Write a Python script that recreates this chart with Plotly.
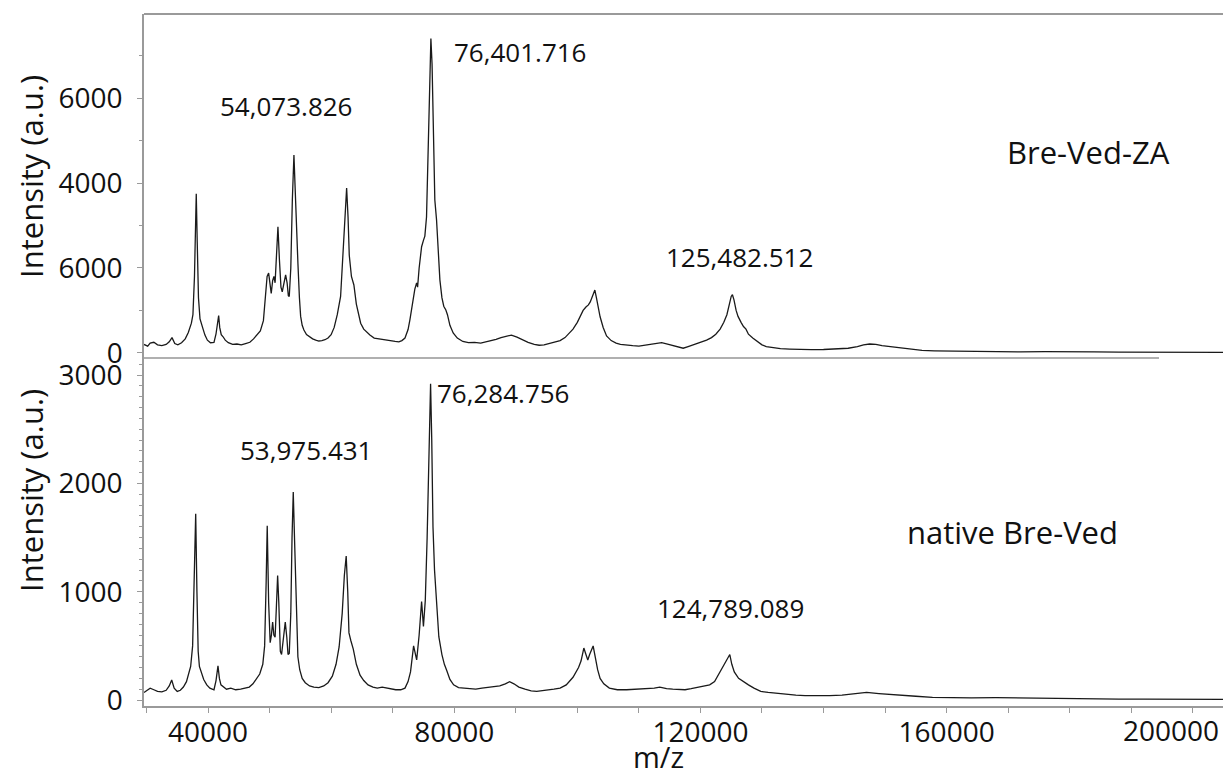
import plotly.graph_objects as go

# ---------------- data ----------------
# Bre-Ved-ZA spectrum (top panel): m/z and intensity (a.u.)
za_mz = [29600, 30200, 30600, 31200, 31800, 32500, 33200, 33700, 34150, 34600, 35100, 35700, 36300, 36800,
         37300, 37550, 37800, 37950, 38090, 38250, 38450, 38700, 39000, 39200, 39500, 39900, 40400, 40970,
         41300, 41550, 41730, 41900, 42150, 42450, 42800, 43300, 44000, 44700, 45400, 46100, 46800, 47400,
         48000, 48500, 49000, 49300, 49600, 49850, 50050, 50270, 50500, 50710, 50900, 51150, 51360, 51600,
         51850, 52060, 52300, 52610, 52850, 53050, 53200, 53450, 53700, 53960, 54150, 54400, 54610, 54850,
         55050, 55300, 55580, 56000, 56500, 57000, 57500, 58000, 58500, 59000, 59500, 60000, 60500, 61000,
         61540, 61900, 62200, 62520, 62750, 62950, 63300, 63700, 64100, 64500, 64800, 65300, 65800, 66300,
         67000, 67700, 68400, 69100, 69800, 70400, 71000, 71500, 72000, 72500, 72800, 73200, 73600, 73890,
         74050, 74300, 74700, 75000, 75230, 75500, 75800, 76050, 76210, 76400, 76600, 76850, 77130, 77400,
         77670, 78000, 78300, 78640, 78900, 79300, 79830, 80500, 81400, 82300, 83300, 84300, 85200, 86000,
         86800, 87600, 88400, 89300, 90200, 91000, 92000, 93000, 93800, 94600, 95500, 96400, 97200, 98000,
         98800, 99300, 100000, 100500, 100940, 101400, 101800, 102100, 102500, 102850, 103100, 103400,
         103700, 104200, 104750, 105500, 106300, 107000, 108000, 109000, 110000, 111000, 112000, 113000,
         113700, 114500, 115500, 116300, 117200, 118000, 119000, 120000, 121000, 121800, 122500, 123200,
         123800, 124300, 124700, 125000, 125200, 125450, 125800, 126110, 126600, 127000, 127400, 127800,
         128500, 129300, 130000, 130700, 131800, 133000, 134500, 136000, 138000, 140000, 142000, 144000,
         145500, 146500, 147500, 148500, 149500, 150700, 152000, 154000, 156000, 158000, 160000, 164000,
         168000, 172000, 176000, 180000, 184000, 188000, 192000, 196000, 200000, 204000, 206200]
za_int = [200, 160, 230, 250, 190, 170, 200, 260, 360, 220, 190, 240, 330, 480,
          700, 900, 1800, 3000, 3750, 2600, 1300, 800, 620, 560, 420, 300, 240, 250,
          450, 700, 880, 600, 430, 380, 300, 240, 200, 210, 190, 220, 250, 330,
          420, 520, 760, 1300, 1800, 1880, 1650, 1400, 1700, 1800, 1650, 2400, 2970, 2200,
          1550, 1440, 1650, 1840, 1650, 1350, 1330, 2000, 3600, 4660, 3900, 2600, 2100, 1300,
          860, 650, 540, 430, 370, 330, 300, 280, 290, 310, 350, 430, 600, 900,
          1330, 2200, 3200, 3880, 3200, 2300, 1800, 1600, 1150, 850, 700, 560, 480, 420,
          350, 330, 320, 300, 280, 270, 260, 290, 350, 550, 780, 1200, 1500, 1650,
          1550, 2000, 2500, 2650, 2750, 3200, 5000, 6800, 7400, 6800, 5000, 3600, 3130, 2300,
          1720, 1300, 1100, 1010, 900, 650, 470, 350, 270, 240, 250, 230, 260, 280,
          320, 360, 390, 420, 370, 310, 250, 200, 180, 190, 230, 260, 290, 360,
          480, 560, 720, 880, 1000, 1080, 1130, 1200, 1350, 1480, 1300, 1050,
          850, 600, 400, 290, 230, 200, 180, 170, 160, 180, 200, 230,
          240, 210, 170, 130, 110, 150, 200, 250, 300, 360, 440, 560,
          720, 900, 1150, 1330, 1370, 1250, 1000, 860, 720, 620, 560, 440,
          350, 260, 190, 150, 120, 100, 90, 80, 75, 80, 90, 110,
          150, 190, 210, 200, 170, 150, 120, 90, 60, 50, 45, 40,
          30, 25, 30, 20, 25, 20, 15, 20, 15, 10, 12]

# native Bre-Ved spectrum (bottom panel)
nat_mz = [29600, 30200, 30600, 31200, 31800, 32500, 33200, 33700, 34100, 34500, 35000, 35500, 36000, 36500,
          36900, 37180, 37500, 37750, 38000, 38200, 38400, 38600, 38900, 39300, 39800, 40300, 40970, 41300,
          41620, 41850, 42100, 42500, 43000, 43700, 44500, 45300, 46000, 46700, 47300, 47900, 48400, 48900,
          49200, 49450, 49620, 49850, 50100, 50300, 50500, 50700, 50900, 51100, 51310, 51500, 51750, 51950,
          52200, 52550, 52800, 53000, 53200, 53450, 53650, 53850, 54050, 54300, 54600, 54900, 55300, 55800,
          56500, 57200, 58000, 58800, 59500, 60200, 60800, 61300, 61800, 62150, 62450, 62700, 62900, 63200,
          63600, 64100, 64700, 65300, 66000, 66800, 67500, 68300, 69000, 69800, 70500, 71300, 72000, 72500,
          72900, 73400, 73700, 73900, 74300, 74700, 75000, 75300, 75600, 75850, 76050, 76160, 76350, 76550,
          76800, 77100, 77500, 78000, 78400, 78800, 79300, 79900, 80700, 81600, 82500, 83500, 84500, 85500,
          86500, 87400, 88300, 89000, 89700, 90500, 91500, 92500, 93400, 94300, 95200, 96200, 97200, 98200,
          99300, 100200, 100600, 101060, 101400, 101700, 102000, 102570, 102900, 103300, 103700, 104300,
          105200, 106500, 108000, 109500, 111000, 112500, 113400, 114500, 115500, 116500, 117500, 118500,
          119500, 120500, 121500, 122300, 123100, 123700, 124300, 124770, 125100, 125500, 126200, 126900,
          127800, 128700, 129800, 131000, 132500, 134000, 135500, 137000, 139000, 141000, 143000, 145000,
          147000, 149000, 151000, 153000, 155000, 157700, 160000, 164000, 168000, 172000, 176000, 180000,
          184000, 188000, 192000, 196000, 200000, 204000, 206200]
nat_int = [70, 90, 110, 95, 80, 75, 90, 130, 185, 110, 80, 90, 120, 170,
           250, 310, 500, 1100, 1720, 1000, 450, 310, 250, 190, 140, 110, 95, 180,
           315, 200, 140, 120, 100, 110, 95, 100, 110, 120, 150, 200, 240, 330,
           500, 1100, 1610, 900, 530, 600, 720, 600, 580, 850, 1150, 900, 450, 420,
           550, 720, 580, 420, 430, 800, 1500, 1920, 1500, 860, 400, 280, 200, 160,
           130, 120, 115, 130, 160, 220, 330, 490, 800, 1150, 1330, 1000, 620, 550,
           470, 330, 230, 180, 140, 120, 110, 120, 110, 100, 95, 95, 110, 170,
           260, 500, 400, 370, 600, 910, 680, 920, 1500, 2300, 2900, 2920, 2400, 1600,
           1200, 900, 585, 420, 330, 270, 190, 140, 115, 110, 105, 100, 110, 115,
           120, 130, 150, 170, 150, 120, 100, 85, 80, 85, 90, 100, 110, 140,
           210, 300, 360, 480, 420, 370, 420, 500, 400, 280, 200, 150,
           110, 95, 95, 100, 105, 110, 120, 105, 100, 95, 95, 105,
           115, 125, 140, 170, 250, 320, 380, 420, 330, 260, 200, 170,
           140, 110, 80, 70, 60, 50, 45, 40, 38, 40, 45, 55,
           70, 60, 50, 40, 35, 25, 22, 20, 22, 18, 15, 12,
           10, 8, 8, 6, 6, 5, 5]

x_tick_vals = [40000, 80000, 120000, 160000, 200000]
x_tick_text = ["40000", "80000", "120000", "160000", "200000"]
za_tick_vals = [0, 2000, 4000, 6000]
za_tick_text = ["0", "6000", "4000", "6000"]
nat_tick_vals = [0, 1000, 2000, 3000]
nat_tick_text = ["0", "1000", "2000", "3000"]

za_labels = ["54,073.826", "76,401.716", "125,482.512"]
nat_labels = ["53,975.431", "76,284.756", "124,789.089"]
sample_names = ["Bre-Ved-ZA", "native Bre-Ved"]

# ---------------- figure ----------------
FONT = "Open Sans"
AX = "#9a9a9a"
split = 348 / 692
X_RANGE = [29600, 206200]

fig = go.Figure()
fig.add_trace(go.Scatter(x=nat_mz, y=nat_int, mode="lines", xaxis="x", yaxis="y",
                         line=dict(color="#1a1a1a", width=1.3), showlegend=False, hoverinfo="skip"))
fig.add_trace(go.Scatter(x=za_mz, y=za_int, mode="lines", xaxis="x2", yaxis="y2",
                         line=dict(color="#1a1a1a", width=1.3), showlegend=False, hoverinfo="skip"))

tickfont = dict(family=FONT, size=28, color="#111")

# last x tick label is nudged left in the reference, so it is drawn separately
x_tick_shown = x_tick_text[:-1] + [""]

# page has an 8 px body margin: figure is 8 px smaller and shifted
fig.update_layout(
    width=1223, height=770,
    margin=dict(l=136, r=0, t=6, b=72, autoexpand=False),
    paper_bgcolor="white", plot_bgcolor="white",
    xaxis=dict(domain=[0, 1], anchor="y", range=X_RANGE, automargin=False,
               tickmode="array", tickvals=x_tick_vals, ticktext=x_tick_shown,
               ticks="outside", ticklen=5, tickcolor=AX, tickwidth=1,
               minor=dict(dtick=10000, ticks="outside", ticklen=5, tickcolor=AX),
               showline=True, linecolor=AX, linewidth=2, showgrid=False, zeroline=False,
               tickfont=tickfont, ticklabelstandoff=-5),
    xaxis2=dict(domain=[0, 1], anchor="y2", matches="x", range=X_RANGE, automargin=False,
                showticklabels=False, ticks="", showline=False, showgrid=False, zeroline=False),
    yaxis=dict(domain=[0, split], anchor="x", range=[-55, 3158], automargin=False,
               tickmode="array", tickvals=nat_tick_vals, ticktext=nat_tick_text,
               ticks="outside", ticklen=5, tickcolor=AX,
               minor=dict(dtick=100, ticks="outside", ticklen=3, tickcolor=AX),
               showline=True, linecolor=AX, linewidth=1.5, showgrid=False, zeroline=False,
               tickfont=tickfont, ticklabelstandoff=9),
    yaxis2=dict(domain=[split, 1], anchor="x2", range=[-120, 7980], automargin=False,
                tickmode="array", tickvals=za_tick_vals, ticktext=za_tick_text,
                ticks="outside", ticklen=5, tickcolor=AX,
                minor=dict(dtick=1000, ticks="outside", ticklen=3, tickcolor=AX),
                showline=True, linecolor=AX, linewidth=1.5, showgrid=False, zeroline=False,
                tickfont=tickfont, ticklabelstandoff=9),
)

# frame lines of the top panel
fig.add_shape(type="line", xref="paper", yref="paper", x0=0, x1=1, y0=1, y1=1,
              line=dict(color=AX, width=2))
fig.add_shape(type="line", xref="paper", yref="paper", x0=0, x1=(1159 - 144) / 1087, y0=split, y1=split,
              line=dict(color="#b0b0b0", width=2))

def ann(text, x, y, size, angle=0, yanchor="middle"):
    fig.add_annotation(text=text, xref="paper", yref="paper", x=x, y=y, showarrow=False,
                       xanchor="center", yanchor=yanchor, textangle=angle,
                       font=dict(family=FONT, size=size, color="#111"))

def px(xp, yp):
    # page pixel position -> paper fraction (plot area spans x 144..1231, y 14..706 on the page)
    return (xp - 144) / 1087, (706 - yp) / 692

for t, (xp, yp) in zip(za_labels, [(286, 106), (520, 52), (739, 257)]):
    ann(t, *px(xp, yp), 26)
for t, (xp, yp) in zip(nat_labels, [(306, 450), (503, 393), (730, 608)]):
    ann(t, *px(xp, yp), 26)
ann(sample_names[0], *px(1088, 152), 31)
ann(sample_names[1], *px(1012, 532), 31)
ann("m/z", *px(658, 778), 29, yanchor="bottom")
ann("Intensity (a.u.)", *px(31, 177), 31, -90)
ann("Intensity (a.u.)", *px(31, 491), 31, -90)
ann(x_tick_text[-1], *px(1171, 730), 28)

fig.write_html("out.html")
